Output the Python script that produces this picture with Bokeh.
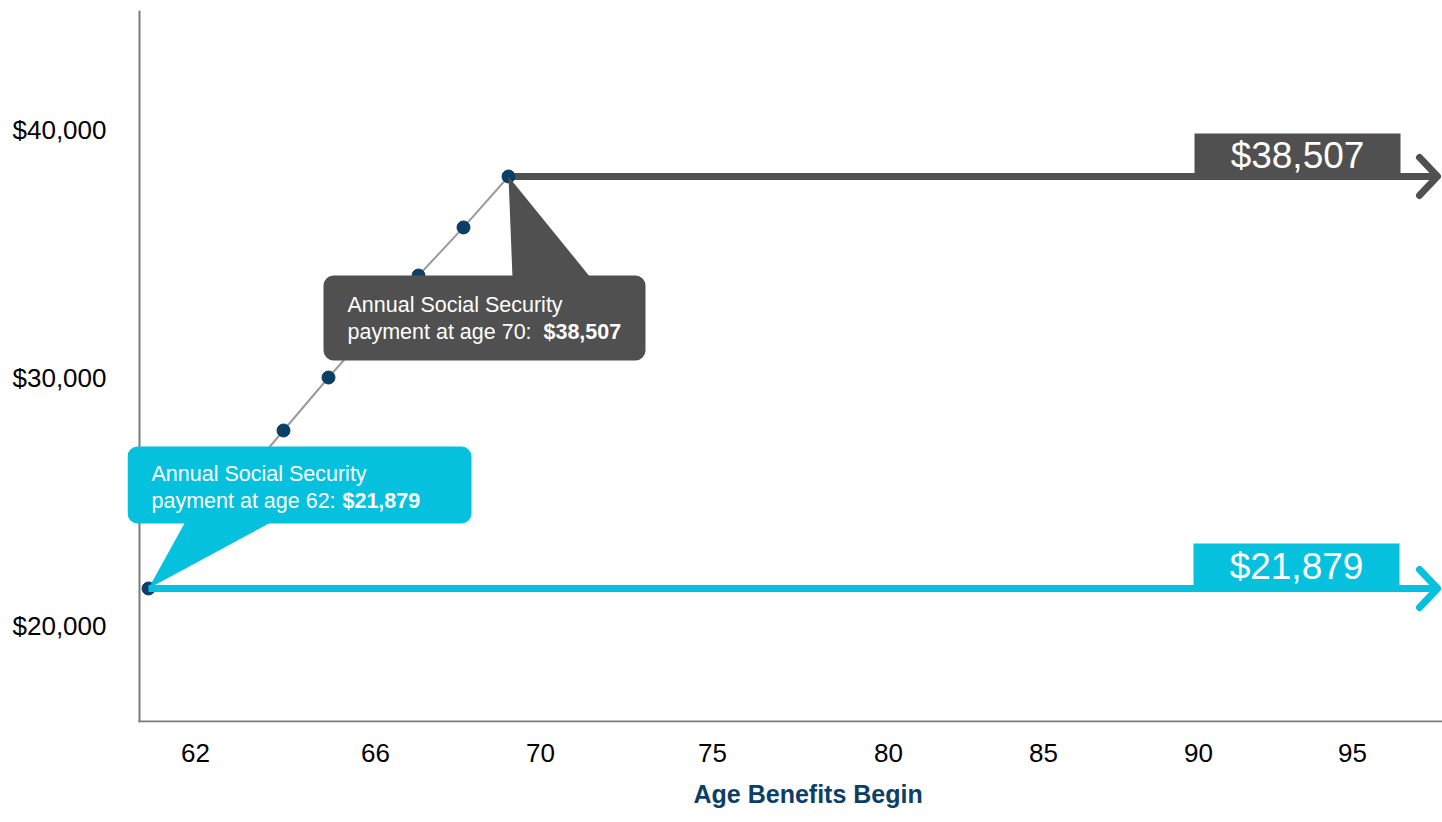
from bokeh.plotting import figure
from bokeh.models import Range1d, FixedTicker, NumeralTickFormatter, LinearAxis, Title
from bokeh.core.properties import value
from bokeh.embed import file_html
from bokeh.resources import INLINE

# Annual Social Security payment by the age benefits begin
ages = [62, 63, 64, 65, 66, 67, 68, 69, 70]
benefits = [21879, 23980, 26110, 28255, 30394, 32450, 34510, 36450, 38507]

# Axis labels
age_tick_labels = ["62", "66", "70", "75", "80", "85", "90", "95"]
dollar_ticks = [20000, 30000, 40000]

# Colours and fonts
CYAN = "#06c1de"
DARK = "#505050"
NAVY = "#0c3f66"
AXIS_GRAY = "#7a7a7a"
LINE_GRAY = "#9b9b9b"
FONT = "Liberation Sans"

# Canvas / frame geometry (pixels); the frame starts a little left of the
# drawn value axis so the age-62 callout can overhang it
W, H = 1442, 822
LEFT, RIGHT, TOP, BOTTOM = 127, 0, 10, 100
FW, FH = W - LEFT - RIGHT, H - TOP - BOTTOM
AXIS_X = 139       # pixel column of the drawn value axis
AXIS_Y = 721       # pixel row of the drawn age axis

X_LO, X_HI = 61.5333, 90.7556
Y_LO, Y_HI = 16470, 45205


def sx(px):
    """Horizontal canvas pixel -> age units."""
    return X_LO + (px - LEFT) * (X_HI - X_LO) / FW


def sy(py):
    """Vertical canvas pixel -> dollar units."""
    return Y_HI - (py - TOP) * (Y_HI - Y_LO) / FH


def dpx_y(n):
    """Height of n pixels in dollar units."""
    return n * (Y_HI - Y_LO) / FH


p = figure(
    width=W, height=H,
    x_range=Range1d(X_LO, X_HI), y_range=Range1d(Y_LO, Y_HI),
    output_backend="svg", toolbar_location=None,
    y_axis_location=None,
    min_border_left=LEFT, min_border_right=RIGHT,
    min_border_top=TOP, min_border_bottom=BOTTOM,
)
p.outline_line_color = None
p.grid.visible = False
p.background_fill_color = "white"
p.border_fill_color = "white"

# Dollar axis labels sit slightly above their tick values
shift = dpx_y(9)
p.extra_y_ranges = {"labels": Range1d(Y_LO - shift, Y_HI - shift)}
yax = LinearAxis(
    y_range_name="labels",
    ticker=FixedTicker(ticks=dollar_ticks),
    formatter=NumeralTickFormatter(format="$0,0"),
)
yax.axis_line_color = None
yax.major_tick_line_color = None
yax.minor_tick_line_color = None
yax.major_label_text_font = FONT
yax.major_label_text_font_size = "26px"
yax.major_label_text_color = "black"
yax.major_label_standoff = 15
p.add_layout(yax, "left")

# Age axis
tick_px = [195, 375, 540, 712, 888, 1043, 1198, 1352]
xt = [round(sx(v), 4) for v in tick_px]
xax = p.xaxis[0]
xax.ticker = FixedTicker(ticks=xt)
xax.major_label_overrides = {t: lab for t, lab in zip(xt, age_tick_labels)}
xax.axis_line_color = None
xax.major_tick_line_color = None
xax.minor_tick_line_color = None
xax.major_label_text_font = FONT
xax.major_label_text_font_size = "26px"
xax.major_label_text_color = "black"
xax.major_label_standoff = 15

p.add_layout(Title(
    text="Age Benefits Begin", align="left", offset=566,
    text_font=FONT, text_font_size="25px", text_font_style="bold",
    text_color=NAVY, standoff=27,
), "below")

# Axis lines
p.segment(x0=[sx(AXIS_X)], y0=[Y_LO], x1=[sx(AXIS_X)], y1=[Y_HI],
          line_color=AXIS_GRAY, line_width=2)
p.segment(x0=[sx(AXIS_X - 1)], y0=[sy(AXIS_Y)], x1=[X_HI], y1=[sy(AXIS_Y)],
          line_color=AXIS_GRAY, line_width=2)

# Benefit curve
p.line(ages, benefits, line_color=LINE_GRAY, line_width=2)

a70, v70 = ages[-1], benefits[-1]
a62, v62 = ages[0], benefits[0]
x_end = sx(1437)
x_back = sx(1419)
head = dpx_y(19)

# Age-70 arrow
p.line([a70, x_end], [v70, v70], line_color=DARK, line_width=7)
p.line([x_back, x_end, x_back], [v70 + head, v70, v70 - head],
       line_color=DARK, line_width=7, line_cap="round", line_join="round")

p.scatter(ages, benefits, size=13, color=NAVY)

# Age-62 arrow
p.line([a62, x_end], [v62, v62], line_color=CYAN, line_width=7)
p.line([x_back, x_end, x_back], [v62 + head, v62, v62 - head],
       line_color=CYAN, line_width=7, line_cap="round", line_join="round")

# Callout for age 62
p.quad(left=sx(127), right=sx(471), top=sy(446), bottom=sy(523),
       fill_color=CYAN, line_color=None, border_radius=10)
p.patch([a62, sx(185), sx(272)], [v62, sy(521), sy(521)],
        fill_color=CYAN, line_color=None)

# Callout for age 70
p.quad(left=sx(323), right=sx(645), top=sy(275), bottom=sy(360),
       fill_color=DARK, line_color=None, border_radius=10)
p.patch([a70, sx(512), sx(590)], [v70, sy(277), sy(277)],
        fill_color=DARK, line_color=None)


def txt(x, y, s, size, bold=False, align="left"):
    p.text(x=[x], y=[y], text=[s], text_font=value(FONT),
           text_font_size=size, text_color="white",
           text_font_style="bold" if bold else "normal",
           text_align=align, text_baseline="middle")


txt(sx(151), sy(473), "Annual Social Security", "21.5px")
txt(sx(151), sy(500), f"payment at age {a62}: ", "21.5px")
txt(sx(342), sy(500), f"${v62:,}", "21.5px", bold=True)

txt(sx(347), sy(304), "Annual Social Security", "21.5px")
txt(sx(347), sy(331), f"payment at age {a70}:  ", "21.5px")
txt(sx(543), sy(331), f"${v70:,}", "21.5px", bold=True)

# Value tags on the arrows
p.quad(left=sx(1194), right=sx(1400), top=sy(133), bottom=sy(174),
       fill_color=DARK, line_color=None)
txt(sx(1297), sy(155), f"${v70:,}", "37px", align="center")

p.quad(left=sx(1193), right=sx(1399), top=sy(543), bottom=sy(587),
       fill_color=CYAN, line_color=None)
txt(sx(1296), sy(566), f"${v62:,}", "37px", align="center")

open("out.html", "w").write(file_html(p, INLINE))
